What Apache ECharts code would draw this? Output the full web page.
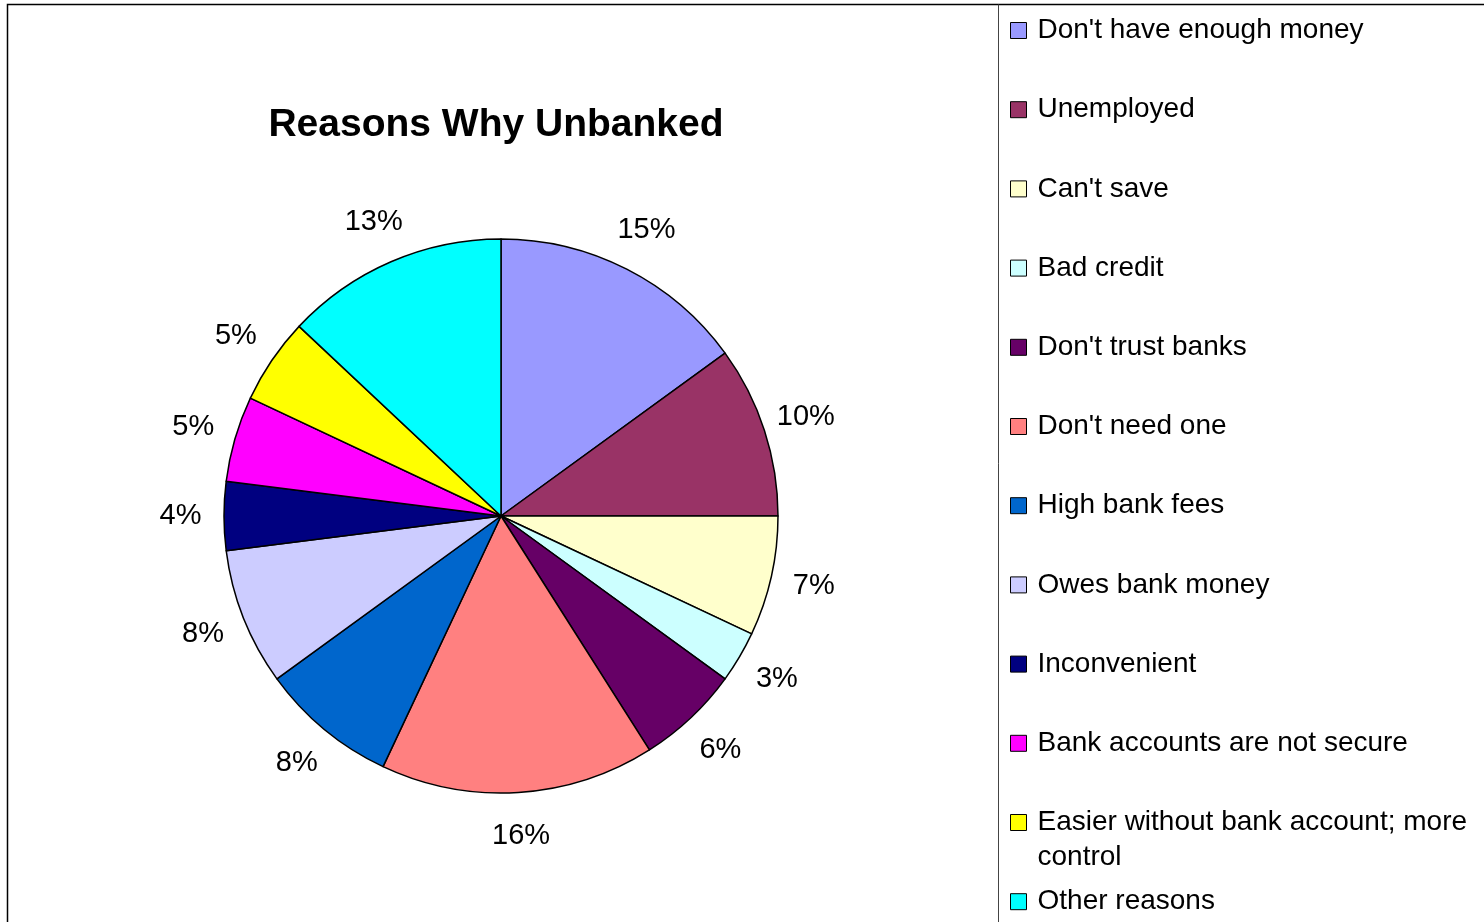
<!DOCTYPE html>
<html>
<head>
<meta charset="utf-8">
<script src="https://cdn.jsdelivr.net/npm/echarts@6/dist/echarts.min.js"></script>
<style>
  html, body { margin: 0; padding: 0; background: #fff; }
  #main { width: 1484px; height: 922px; }
</style>
</head>
<body>
<div id="main"></div>
<script>
// 图表数据
var reasons = ["Don't have enough money", 'Unemployed', "Can't save", 'Bad credit',
  "Don't trust banks", "Don't need one", 'High bank fees', 'Owes bank money',
  'Inconvenient', 'Bank accounts are not secure',
  'Easier without bank account; more control', 'Other reasons'];
var shares = [15, 10, 7, 3, 6, 16, 8, 8, 4, 5, 5, 13];
var sliceColors = ['#9999FF', '#993366', '#FFFFCC', '#CCFFFF', '#660066', '#FF8080',
  '#0066CC', '#CCCCFF', '#000080', '#FF00FF', '#FFFF00', '#00FFFF'];

var font = '"Liberation Sans", Arial, sans-serif';
var myChart = echarts.init(document.getElementById('main'));

var pieData = reasons.map(function (n, i) {
  return { name: n, value: shares[i], itemStyle: { color: sliceColors[i] } };
});

// 图例：每项单独一个 legend，这样换行那一项不会把后面的挤下去
var legends = reasons.map(function (n, i) {
  var wrapped = (n === 'Easier without bank account; more control');
  var cy = 30.5 + i * 79.2;
  return {
    data: [n],
    orient: 'vertical',
    left: 1010,
    top: wrapped ? cy - 52.5 : cy - 17.5,
    padding: 0,
    icon: 'rect',
    itemWidth: 16,
    itemHeight: 16,
    itemStyle: { borderColor: '#000', borderWidth: 1 },
    selectedMode: false,
    formatter: function (name) { return wrapped ? '\n' + name : name; },
    textStyle: {
      fontFamily: font, fontSize: 28, color: '#000', lineHeight: 35,
      width: 450, overflow: 'break', padding: [0, 0, 0, 6]
    }
  };
});

var option = {
  animation: false,
  backgroundColor: '#fff',
  title: {
    text: 'Reasons Why Unbanked',
    left: 496,
    top: 106,
    padding: 0,
    textAlign: 'center',
    textStyle: { fontFamily: font, fontSize: 39, fontWeight: 'bold', color: '#000' }
  },
  legend: legends,
  graphic: [
    { type: 'rect', silent: true, shape: { x: 7.5, y: 4.5, width: 1600, height: 1000 },
      style: { fill: 'none', stroke: '#000', lineWidth: 1.5 } },
    { type: 'line', silent: true, shape: { x1: 998.5, y1: 4.5, x2: 998.5, y2: 922 },
      style: { stroke: '#444', lineWidth: 1 } }
  ],
  series: [
    {
      type: 'pie',
      center: [501, 516],
      radius: 277,
      startAngle: 90,
      clockwise: true,
      silent: true,
      data: pieData,
      itemStyle: { borderColor: '#000', borderWidth: 1.5 },
      label: { show: false },
      labelLine: { show: false }
    },
    {
      // 透明外环，只用来放百分比标签
      type: 'pie',
      center: [501, 516],
      radius: [277, 358],
      startAngle: 90,
      clockwise: true,
      silent: true,
      data: pieData.map(function (d) {
        return { name: d.name, value: d.value, itemStyle: { color: 'rgba(0,0,0,0)' } };
      }),
      itemStyle: { borderWidth: 0 },
      label: {
        show: true,
        position: 'inside',
        fontFamily: font,
        fontSize: 29,
        color: '#000',
        formatter: function (p) { return Math.round(p.percent) + '%'; }
      },
      labelLine: { show: false }
    }
  ]
};

myChart.setOption(option);
</script>
</body>
</html>
